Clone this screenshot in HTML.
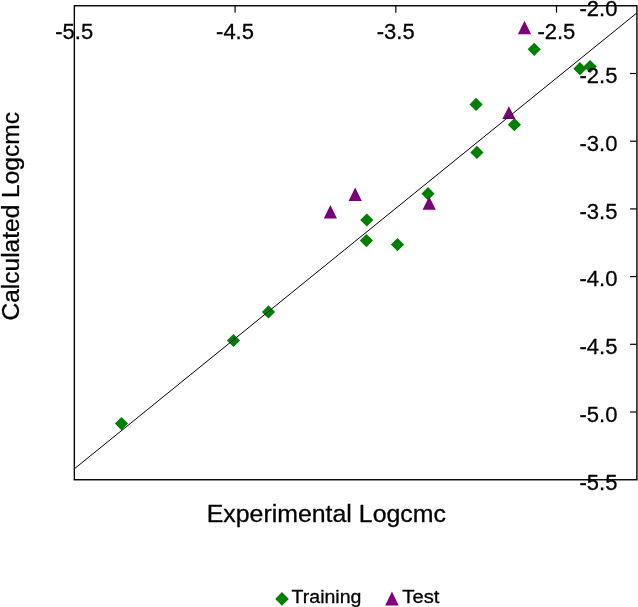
<!DOCTYPE html>
<html>
<head>
<meta charset="utf-8">
<title>Calculated vs Experimental Logcmc</title>
<style>
html,body{margin:0;padding:0;background:#fff;}
body{width:638px;height:607px;overflow:hidden;}
svg{display:block;}
text{font-family:"Liberation Sans",Arial,sans-serif;fill:#000;stroke:#000;stroke-width:0.3px;}
.tk{font-size:22.6px;}
.ttl{font-size:24px;}
.lg{font-size:19px;}
</style>
</head>
<body>
<svg width="638" height="607" viewBox="0 0 638 607">
<rect width="638" height="607" fill="#fff"/>
<!-- plot frame -->
<rect x="74.35" y="5.77" width="562.57" height="473.98" fill="none" stroke="#000" stroke-width="1.4"/>
<!-- ticks -->
<g stroke="#000" stroke-width="1.2">
<line x1="235.08" y1="5.8" x2="235.08" y2="12.7"/>
<line x1="395.81" y1="5.8" x2="395.81" y2="12.7"/>
<line x1="556.5" y1="5.8" x2="556.5" y2="12.7"/>
<line x1="630.1" y1="73.5" x2="636.5" y2="73.5"/>
<line x1="630.1" y1="141.2" x2="636.5" y2="141.2"/>
<line x1="630.1" y1="208.9" x2="636.5" y2="208.9"/>
<line x1="630.1" y1="276.6" x2="636.5" y2="276.6"/>
<line x1="630.1" y1="344.3" x2="636.5" y2="344.3"/>
<line x1="630.1" y1="412.0" x2="636.5" y2="412.0"/>
</g>
<!-- training series -->
<g fill="#008000">
<path d="M121.5 417.0l6.6 6.6l-6.6 6.6l-6.6-6.6z"/>
<path d="M233.5 333.9l6.6 6.6l-6.6 6.6l-6.6-6.6z"/>
<path d="M268.5 305.3l6.6 6.6l-6.6 6.6l-6.6-6.6z"/>
<path d="M366.8 213.4l6.6 6.6l-6.6 6.6l-6.6-6.6z"/>
<path d="M366.4 234.0l6.6 6.6l-6.6 6.6l-6.6-6.6z"/>
<path d="M397.5 238.0l6.6 6.6l-6.6 6.6l-6.6-6.6z"/>
<path d="M428.0 187.1l6.6 6.6l-6.6 6.6l-6.6-6.6z"/>
<path d="M534.2 42.7l6.6 6.6l-6.6 6.6l-6.6-6.6z"/>
<path d="M476.1 97.8l6.6 6.6l-6.6 6.6l-6.6-6.6z"/>
<path d="M514.4 118.1l6.6 6.6l-6.6 6.6l-6.6-6.6z"/>
<path d="M476.9 145.8l6.6 6.6l-6.6 6.6l-6.6-6.6z"/>
<path d="M579.9 62.1l6.6 6.6l-6.6 6.6l-6.6-6.6z"/>
<path d="M590.1 59.9l6.6 6.6l-6.6 6.6l-6.6-6.6z"/>
</g>
<!-- test series -->
<g fill="#7a007a">
<path d="M330.4 204.9L337.0 218.6H323.8z"/>
<path d="M355.2 187.6L361.8 201.0H348.6z"/>
<path d="M429.2 196.4L435.8 209.8H422.6z"/>
<path d="M524.5 20.8L531.1 34.3H517.9z"/>
<path d="M508.9 106.2L515.5 119.1H502.3z"/>
</g>
<!-- fit line -->
<line x1="74.4" y1="468.8" x2="636.9" y2="12.9" stroke="#000" stroke-width="1"/>
<!-- x tick labels (top) -->
<g class="tk" text-anchor="middle">
<text transform="translate(74.2,39.3) scale(0.973,1)">-5.5</text>
<text transform="translate(235.0,39.3) scale(0.973,1)">-4.5</text>
<text transform="translate(395.7,39.3) scale(0.973,1)">-3.5</text>
<text transform="translate(556.4,39.3) scale(0.973,1)">-2.5</text>
</g>
<!-- y tick labels (right) -->
<g class="tk" text-anchor="end">
<text transform="translate(617.4,15.6) scale(0.973,1)">-2.0</text>
<text transform="translate(617.4,83.3) scale(0.973,1)">-2.5</text>
<text transform="translate(617.4,151.0) scale(0.973,1)">-3.0</text>
<text transform="translate(617.4,218.7) scale(0.973,1)">-3.5</text>
<text transform="translate(617.4,286.4) scale(0.973,1)">-4.0</text>
<text transform="translate(617.4,354.1) scale(0.973,1)">-4.5</text>
<text transform="translate(617.4,421.8) scale(0.973,1)">-5.0</text>
<text transform="translate(617.4,489.5) scale(0.973,1)">-5.5</text>
</g>
<text class="ttl" transform="translate(326.3,522) scale(1.037,1)" text-anchor="middle">Experimental Logcmc</text>
<text class="ttl" transform="translate(18.7,216.3) rotate(-90) scale(1.021,1)" text-anchor="middle">Calculated Logcmc</text>
<!-- legend -->
<path fill="#008000" d="M282 592.1l6.8 6.8l-6.8 6.8l-6.8-6.8z"/>
<text class="lg" transform="translate(291.6,602.7) scale(1.028,1)">Training</text>
<path fill="#800080" d="M391.95 591.6L398.7 605.4H385.2z"/>
<text class="lg" transform="translate(402.3,602.7) scale(1.064,1)">Test</text>
</svg>
</body>
</html>
